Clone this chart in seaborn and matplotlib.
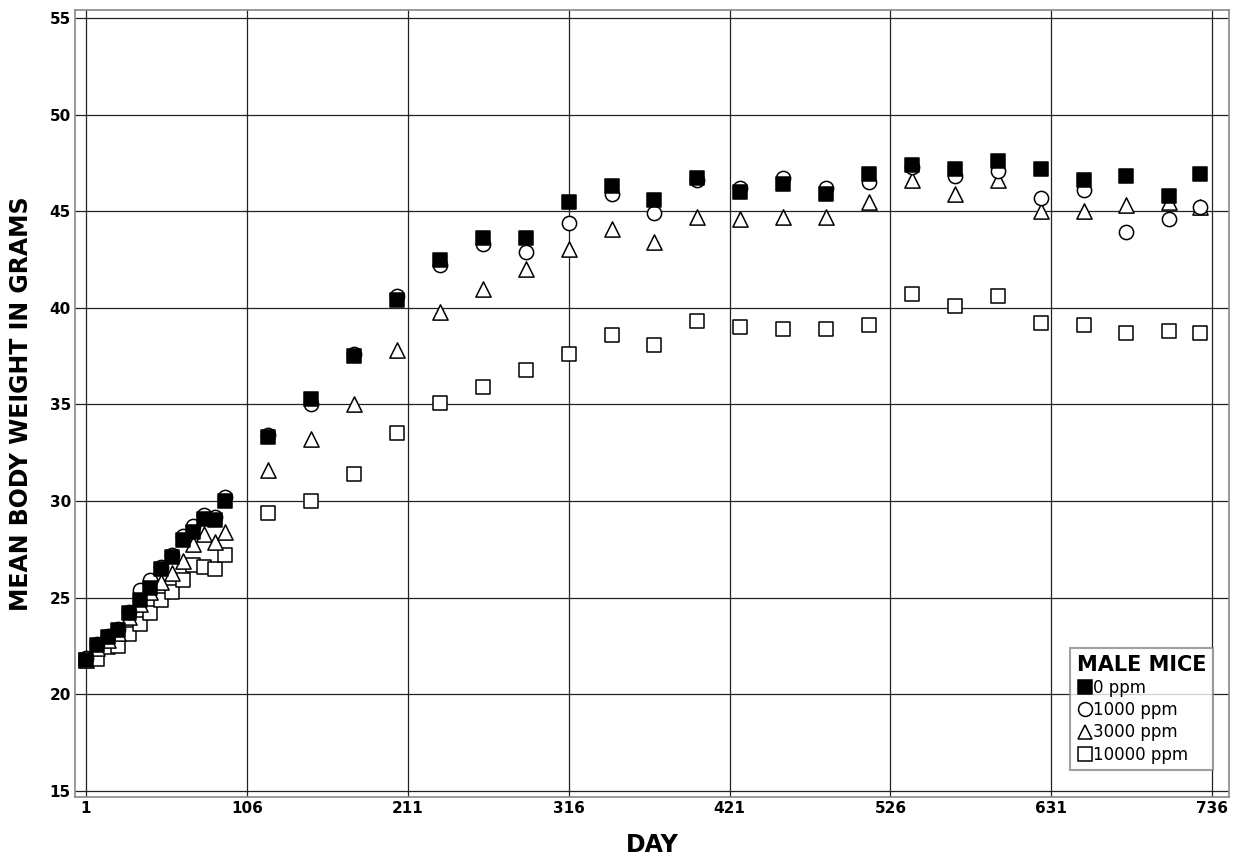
import matplotlib
matplotlib.use("Agg")
import matplotlib.pyplot as plt
from matplotlib.lines import Line2D
import seaborn as sns
import pandas as pd

days = [1, 8, 15, 22, 29, 36, 43, 50, 57, 64, 71, 78, 85, 92,
        120, 148, 176, 204, 232, 260, 288, 316, 344, 372, 400, 428, 456,
        484, 512, 540, 568, 596, 624, 652, 680, 708, 728]

ppm0 = [21.8, 22.55, 22.95, 23.35, 24.2, 24.9, 25.5, 26.5, 27.1, 28.0, 28.4, 29.1, 29.0, 30.0,
        33.3, 35.3, 37.5, 40.4, 42.5, 43.6, 43.6, 45.5, 46.3, 45.6, 46.7, 46.0, 46.4,
        45.9, 46.9, 47.4, 47.2, 47.6, 47.2, 46.6, 46.8, 45.8, 46.9]
ppm1000 = [21.9, 22.6, 23.0, 23.4, 24.25, 25.4, 25.9, 26.6, 27.2, 28.2, 28.7, 29.3, 29.2, 30.2,
           33.4, 35.0, 37.6, 40.6, 42.2, 43.3, 42.9, 44.4, 45.9, 44.9, 46.6, 46.2, 46.7,
           46.2, 46.5, 47.3, 46.8, 47.1, 45.7, 46.1, 43.9, 44.6, 45.2]
ppm3000 = [21.8, 22.4, 22.8, 23.2, 24.0, 24.7, 25.3, 25.8, 26.3, 26.9, 27.8, 28.3, 27.9, 28.4,
           31.6, 33.2, 35.0, 37.8, 39.8, 41.0, 42.0, 43.05, 44.1, 43.4, 44.7, 44.6, 44.7,
           44.7, 45.5, 46.6, 45.9, 46.6, 45.0, 45.0, 45.3, 45.5, 45.2]
ppm10000 = [21.8, 21.85, 22.45, 22.5, 23.1, 23.65, 24.2, 24.9, 25.3, 25.9, 26.7, 26.6, 26.5, 27.2,
            29.4, 30.0, 31.4, 33.5, 35.1, 35.9, 36.8, 37.6, 38.6, 38.1, 39.3, 39.0, 38.9,
            38.9, 39.1, 40.7, 40.1, 40.6, 39.2, 39.1, 38.7, 38.8, 38.7]

groups = ["0 ppm", "1000 ppm", "3000 ppm", "10000 ppm"]
xticks = [1, 106, 211, 316, 421, 526, 631, 736]
yticks = [15, 20, 25, 30, 35, 40, 45, 50, 55]

series = {"0 ppm": ppm0, "1000 ppm": ppm1000, "3000 ppm": ppm3000, "10000 ppm": ppm10000}
rows = []
for g in groups:
    for d, v in zip(days, series[g]):
        rows.append({"day": d, "weight": v, "group": g})
df = pd.DataFrame(rows)

sns.set_style("white")
plt.rcParams['font.family'] = ['DejaVu Sans']
plt.rcParams['text.color'] = 'black'
plt.rcParams['axes.labelcolor'] = 'black'
plt.rcParams['xtick.color'] = 'black'
plt.rcParams['ytick.color'] = 'black'

fig = plt.figure(figsize=(12.34, 8.61), dpi=100)
ax = fig.add_axes([0.0608, 0.0743, 0.9352, 0.9141])

styles = {
    "0 ppm": dict(marker="s", fc="black"),
    "1000 ppm": dict(marker="o", fc="white"),
    "3000 ppm": dict(marker="^", fc="white"),
    "10000 ppm": dict(marker="s", fc="white"),
}
sizes = {"s": 100, "o": 105, "^": 120}

for g in ["10000 ppm", "3000 ppm", "1000 ppm", "0 ppm"]:
    st = styles[g]
    sns.scatterplot(data=df[df["group"] == g], x="day", y="weight", ax=ax,
                    marker=st["marker"], color=st["fc"], edgecolor="black",
                    linewidth=1.1, s=sizes[st["marker"]], zorder=3, legend=False)

ax.set_xlim(-6.2, 747)
ax.set_ylim(14.69, 55.41)
ax.set_xticks(xticks)
ax.set_yticks(yticks)
ax.set_xticklabels([str(t) for t in xticks], fontsize=11, fontweight="bold")
ax.set_yticklabels([str(t) for t in yticks], fontsize=11, fontweight="bold")
ax.tick_params(length=0, pad=3)
ax.grid(True, color="#222222", linewidth=0.9, zorder=0)
ax.set_axisbelow(True)
for sp in ax.spines.values():
    sp.set_color("#888888")
    sp.set_linewidth(1.2)

ax.set_xlabel("DAY", fontsize=17, fontweight="bold", labelpad=12)
ax.set_ylabel("MEAN BODY WEIGHT IN GRAMS", fontsize=17, fontweight="bold", labelpad=12)

handles = []
for g in groups:
    st = styles[g]
    handles.append(Line2D([0], [0], linestyle="none", marker=st["marker"],
                          markerfacecolor=st["fc"], markeredgecolor="black",
                          markeredgewidth=1.1, markersize=10))
leg = ax.legend(handles, groups, title="MALE MICE", loc="lower right",
                bbox_to_anchor=(0.986, 0.034), fontsize=12, frameon=True,
                fancybox=False, handletextpad=0.0, handlelength=1.0,
                borderpad=0.4, labelspacing=0.25, borderaxespad=0.0,
                title_fontproperties={"weight": "bold", "size": 15})
leg.get_frame().set_edgecolor("#888888")
leg.get_frame().set_linewidth(1.5)
leg._legend_box.align = "left"
leg.get_title().set_ha("center")

fig.savefig("out.png", dpi=100)
